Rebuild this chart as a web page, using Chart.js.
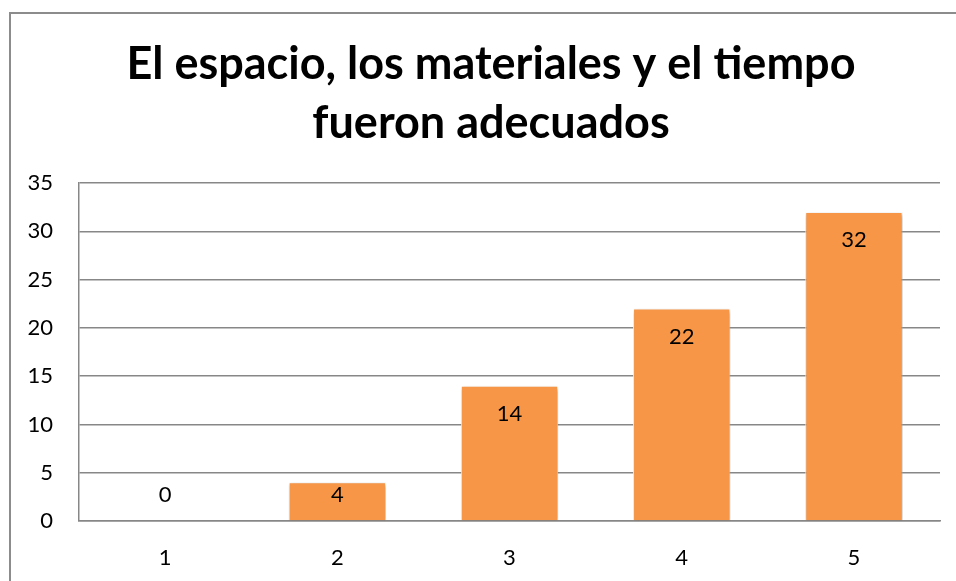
<!DOCTYPE html>
<html>
<head>
<meta charset="utf-8">
<script src="https://cdn.jsdelivr.net/npm/chart.js@4"></script>
<style>
  html, body { margin: 0; padding: 0; background: #fff; overflow: hidden; }
  #wrap { position: relative; width: 956px; height: 581px; }
  #frame { position: absolute; left: 9px; top: 12px; width: 964px; height: 1000px;
           border: 2px solid #8c8c8c; box-sizing: border-box; pointer-events: none; }
  canvas { position: absolute; left: 0; top: 0; }
</style>
</head>
<body>
<div id="wrap">
  <canvas id="chart" width="956" height="581"></canvas>
  <div id="frame"></div>
</div>
<script>
const titleLines = ['El espacio, los materiales y el tiempo', 'fueron adecuados'];
const categories = ['1', '2', '3', '4', '5'];
const values = [0, 4, 14, 22, 32];
const yTicks = [0, 5, 10, 15, 20, 25, 30, 35];

const FONT = 'Lato, "Open Sans", sans-serif';

// title centred on the chart frame (which runs past the right edge)
const frameTitle = {
  id: 'frameTitle',
  afterDraw(chart) {
    const ctx = chart.ctx;
    ctx.save();
    ctx.font = 'bold 45px ' + FONT;
    ctx.fillStyle = '#000';
    ctx.textAlign = 'center';
    ctx.textBaseline = 'alphabetic';
    const cx = 491;
    titleLines.forEach((t, i) => ctx.fillText(t, cx, 79 + i * 59));
    ctx.restore();
  }
};

// value labels, placed "inside end" like the original
const valueLabels = {
  id: 'valueLabels',
  afterDatasetsDraw(chart) {
    const ctx = chart.ctx;
    const meta = chart.getDatasetMeta(0);
    ctx.save();
    ctx.font = '22px ' + FONT;
    ctx.fillStyle = '#000';
    ctx.textAlign = 'center';
    ctx.textBaseline = 'middle';
    meta.data.forEach((bar, i) => {
      const v = values[i];
      const h = bar.base - bar.y;
      let y;
      if (v === 0) y = bar.base - 26;
      else y = bar.y + Math.min(28, h / 3);
      ctx.fillText(String(v), bar.x, y);
    });
    ctx.restore();
  }
};

// soft shadow under the bars
const barShadow = {
  id: 'barShadow',
  beforeDatasetsDraw(chart) {
    const ctx = chart.ctx;
    ctx.save();
    ctx.shadowColor = 'rgba(0,0,0,0.35)';
    ctx.shadowBlur = 4;
    ctx.shadowOffsetX = 1;
    ctx.shadowOffsetY = 2;
  },
  afterDatasetsDraw(chart) {
    chart.ctx.restore();
  }
};

const ctx = document.getElementById('chart').getContext('2d');
const myChart = new Chart(ctx, {
  type: 'bar',
  data: {
    labels: categories,
    datasets: [{
      data: values,
      backgroundColor: '#F79646',
      borderColor: '#ffffff',
      borderWidth: 1,
      categoryPercentage: 1,
      barPercentage: 0.565
    }]
  },
  options: {
    responsive: false,
    animation: false,
    layout: { padding: { left: 0, right: 16, top: 183, bottom: 0 } },
    plugins: {
      legend: { display: false },
      tooltip: { enabled: false },
      title: { display: false }
    },
    scales: {
      x: {
        grid: { display: false, drawTicks: false },
        border: { display: true, color: '#878787', width: 1.5 },
        ticks: { color: '#000', font: { family: FONT, size: 22 }, padding: 24 },
        afterFit(scale) { scale.height = 60; }
      },
      y: {
        min: 0,
        max: 35,
        afterBuildTicks(scale) { scale.ticks = yTicks.map(v => ({ value: v })); },
        grid: { color: '#878787', lineWidth: 1.5, drawTicks: false },
        border: { display: true, color: '#878787', width: 1.5 },
        ticks: { color: '#000', font: { family: FONT, size: 22 }, padding: 26 },
        afterFit(scale) { scale.width = 79; }
      }
    }
  },
  plugins: [barShadow, valueLabels, frameTitle]
});
</script>
</body>
</html>
